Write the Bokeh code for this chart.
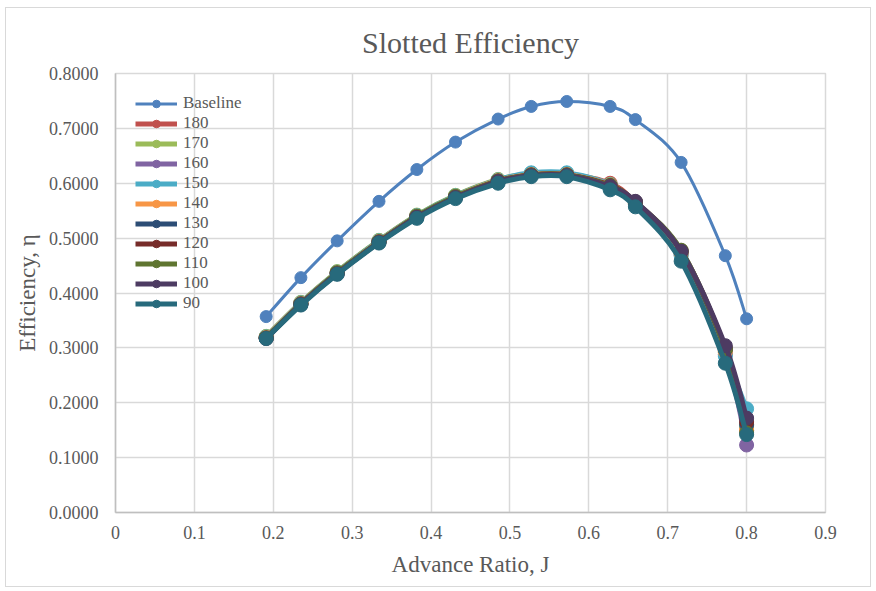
from bokeh.plotting import figure
from bokeh.models import (FixedTicker, NumeralTickFormatter, Legend, LegendItem,
                          ColumnDataSource, Range1d)
from bokeh.embed import file_html
from bokeh.resources import INLINE

# ---------------- data ----------------
J = [0.191, 0.235, 0.281, 0.334, 0.382, 0.431, 0.485, 0.527, 0.572, 0.627, 0.659, 0.717, 0.773, 0.800]

baseline = [0.357, 0.428, 0.495, 0.567, 0.625, 0.675, 0.717, 0.740, 0.749, 0.740, 0.716, 0.638, 0.468, 0.353]
s180 = [0.320, 0.382, 0.438, 0.495, 0.541, 0.577, 0.606, 0.617, 0.617, 0.600, 0.565, 0.474, 0.295, 0.150]
s170 = [0.321, 0.383, 0.439, 0.496, 0.542, 0.578, 0.607, 0.618, 0.618, 0.598, 0.563, 0.472, 0.292, 0.158]
s160 = [0.319, 0.381, 0.437, 0.494, 0.540, 0.576, 0.605, 0.616, 0.616, 0.596, 0.562, 0.470, 0.288, 0.123]
s150 = [0.320, 0.382, 0.438, 0.495, 0.541, 0.577, 0.606, 0.619, 0.619, 0.597, 0.561, 0.468, 0.285, 0.189]
s140 = [0.319, 0.381, 0.437, 0.494, 0.540, 0.576, 0.605, 0.616, 0.616, 0.596, 0.563, 0.473, 0.293, 0.150]
s130 = [0.318, 0.380, 0.436, 0.493, 0.539, 0.575, 0.604, 0.615, 0.615, 0.595, 0.564, 0.475, 0.297, 0.160]
s120 = [0.318, 0.380, 0.436, 0.493, 0.539, 0.575, 0.604, 0.615, 0.615, 0.596, 0.566, 0.477, 0.300, 0.165]
s110 = [0.318, 0.380, 0.437, 0.493, 0.540, 0.576, 0.604, 0.615, 0.615, 0.595, 0.566, 0.478, 0.298, 0.145]
s100 = [0.317, 0.379, 0.435, 0.492, 0.538, 0.574, 0.603, 0.614, 0.614, 0.594, 0.567, 0.476, 0.304, 0.172]
s90 = [0.317, 0.378, 0.434, 0.491, 0.536, 0.572, 0.600, 0.612, 0.612, 0.588, 0.557, 0.458, 0.272, 0.142]

series_names = ["Baseline", "180", "170", "160", "150", "140", "130", "120", "110", "100", "90"]
series_values = [baseline, s180, s170, s160, s150, s140, s130, s120, s110, s100, s90]
series_colors = ["#4F81BD", "#C0504D", "#9BBB59", "#8064A2", "#4BACC6", "#F79646",
                 "#2C4D75", "#772C2A", "#5F7530", "#4D3B62", "#276A7C"]

x_ticks = [0, 0.1, 0.2, 0.3, 0.4, 0.5, 0.6, 0.7, 0.8, 0.9]
y_ticks = [0, 0.1, 0.2, 0.3, 0.4, 0.5, 0.6, 0.7, 0.8]

FONT = "Liberation Serif"
TXT = "#595959"
GRID = "#d9d9d9"


def smooth_segments(xs, ys, t=1.0 / 6.0):
    """Cardinal-spline (Excel-like smoothed line) bezier control points."""
    n = len(xs)
    seg = dict(x0=[], y0=[], x1=[], y1=[], cx0=[], cy0=[], cx1=[], cy1=[])
    for i in range(n - 1):
        xp, yp = (xs[i - 1], ys[i - 1]) if i > 0 else (xs[i], ys[i])
        xn2, yn2 = (xs[i + 2], ys[i + 2]) if i + 2 < n else (xs[i + 1], ys[i + 1])
        seg["x0"].append(xs[i]); seg["y0"].append(ys[i])
        seg["x1"].append(xs[i + 1]); seg["y1"].append(ys[i + 1])
        seg["cx0"].append(xs[i] + (xs[i + 1] - xp) * t)
        seg["cy0"].append(ys[i] + (ys[i + 1] - yp) * t)
        seg["cx1"].append(xs[i + 1] - (xn2 - xs[i]) * t)
        seg["cy1"].append(ys[i + 1] - (yn2 - ys[i]) * t)
    return seg


p = figure(width=866, height=580, output_backend="svg", toolbar_location=None,
           x_range=Range1d(0, 0.9), y_range=Range1d(0, 0.8),
           min_border_left=109, min_border_right=47, min_border_top=65, min_border_bottom=76)
p.margin = (7, 0, 0, 5)

p.title.text = "Slotted Efficiency"
p.title.align = "center"
p.title.text_font = FONT
p.title.text_font_size = "30px"
p.title.text_font_style = "normal"
p.title.text_color = TXT
p.title.offset = 0
p.title.standoff = 30

p.outline_line_color = GRID
p.outline_line_width = 1.5
p.background_fill_color = "white"
p.border_fill_color = "white"
p.styles = {"border": "1.5px solid #d9d9d9"}

p.xaxis.ticker = FixedTicker(ticks=x_ticks)
p.yaxis.ticker = FixedTicker(ticks=y_ticks)
p.yaxis.formatter = NumeralTickFormatter(format="0.0000")
p.xaxis.major_label_overrides = {0: "0"}

for ax in (p.xaxis, p.yaxis):
    ax.major_tick_line_color = None
    ax.minor_tick_line_color = None
    ax.axis_line_color = "#bfbfbf"
    ax.axis_line_width = 1.5
    ax.major_label_text_font = FONT
    ax.major_label_text_font_size = "18px"
    ax.major_label_text_color = TXT
    ax.axis_label_text_font = FONT
    ax.axis_label_text_font_size = "23px"
    ax.axis_label_text_font_style = "normal"
    ax.axis_label_text_color = TXT

p.xaxis.axis_label = "Advance Ratio, J"
p.yaxis.axis_label = "Efficiency, η"
p.xaxis.major_label_standoff = 7
p.yaxis.major_label_standoff = 11
p.xaxis.axis_label_standoff = 10
p.yaxis.axis_label_standoff = 6

p.xgrid.grid_line_color = GRID
p.ygrid.grid_line_color = GRID
p.xgrid.grid_line_width = 1.5
p.ygrid.grid_line_width = 1.5

items = []
for name, vals, col in zip(series_names, series_values, series_colors):
    base = name == "Baseline"
    lw = 3 if base else 5
    ms = 12 if base else 14
    seg = ColumnDataSource(smooth_segments(J, vals))
    r_line = p.bezier(x0="x0", y0="y0", x1="x1", y1="y1", cx0="cx0", cy0="cy0",
                      cx1="cx1", cy1="cy1", source=seg, line_color=col, line_width=lw)
    pts = ColumnDataSource(dict(x=J, y=vals))
    r_pts = p.scatter("x", "y", source=pts, marker="circle", size=ms,
                      fill_color=col, line_color=col)
    items.append(LegendItem(label=name, renderers=[r_line, r_pts]))

legend = Legend(items=items, location="top_left")
legend.margin = 10
legend.padding = 10
legend.spacing = 0
legend.glyph_width = 42
legend.glyph_height = 19
legend.label_height = 19
legend.label_standoff = 6
legend.label_text_font = FONT
legend.label_text_font_size = "17px"
legend.label_text_color = TXT
legend.label_text_baseline = "middle"
legend.border_line_alpha = 0
legend.background_fill_alpha = 0
legend.label_text_line_height = 1.0
p.add_layout(legend)

open("out.html", "w").write(file_html(p, INLINE))
